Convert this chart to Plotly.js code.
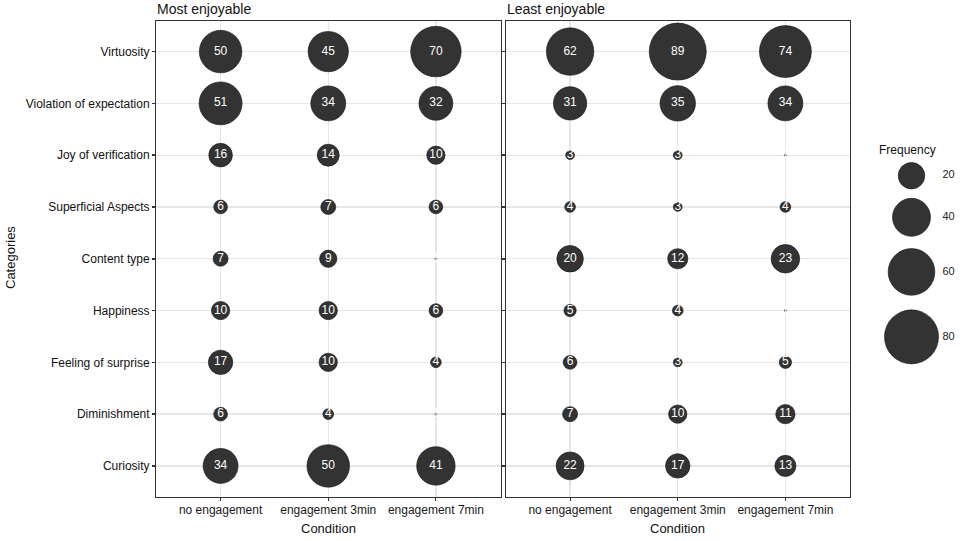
<!DOCTYPE html>
<html>
<head>
<meta charset="utf-8">
<script src="https://cdn.plot.ly/plotly-3.0.1.min.js"></script>
<style>html,body{margin:0;padding:0;background:#fff;}#chart{width:964px;height:541px;}</style>
</head>
<body>
<div id="chart"></div>
<script>
// ---- data ----
const categories = ["Virtuosity", "Violation of expectation", "Joy of verification", "Superficial Aspects",
  "Content type", "Happiness", "Feeling of surprise", "Diminishment", "Curiosity"];
const conditions = ["no engagement", "engagement 3min", "engagement 7min"];
// rows follow categories, columns follow conditions
const mostNo  = [50, 51, 16, 6, 7, 10, 17, 6, 34];
const most3   = [45, 34, 14, 7, 9, 10, 10, 4, 50];
const most7   = [70, 32, 10, 6, 1, 6, 4, 1, 41];
const leastNo = [62, 31, 3, 4, 20, 5, 6, 7, 22];
const least3  = [89, 35, 3, 3, 12, 4, 3, 10, 17];
const least7  = [74, 34, 1, 4, 23, 1, 5, 11, 13];
const legendValues = [20, 40, 60, 80];
const panelTitles = ["Most enjoyable", "Least enjoyable"];

// ---- size scale (area-linear like ggplot scale_size) ----
const allVals = [].concat(mostNo, most3, most7, leastNo, least3, least7);
const vMin = Math.min(...allVals), vMax = Math.max(...allVals);
const dMin = 2, dMax = 57;
function diam(v) {
  const t = (v - vMin) / (vMax - vMin);
  return Math.sqrt(dMin * dMin + t * (dMax * dMax - dMin * dMin));
}

const FONT = "Liberation Sans, Arial, Helvetica, sans-serif";
const fill = "rgb(51,51,51)";

function panelTrace(cols, xa, ya) {
  const x = [], y = [], v = [];
  cols.forEach((col, ci) => col.forEach((val, ri) => { x.push(conditions[ci]); y.push(categories[ri]); v.push(val); }));
  return {
    type: "scatter", mode: "markers+text", x: x, y: y, xaxis: xa, yaxis: ya,
    text: v.map(String), textposition: "middle center",
    textfont: {family: FONT, size: 12, color: "#ffffff"},
    marker: {size: v.map(diam), color: fill, opacity: 1, line: {color: "#111", width: 0.6}},
    cliponaxis: false, hoverinfo: "skip", showlegend: false
  };
}

// legend keys (pixel units on a hidden axis)
const legD = legendValues.map(diam);
const legY = [175.7];
for (let i = 1; i < legD.length; i++) legY.push(legY[i - 1] + 1.29 * (legD[i - 1] + legD[i]) / 2);
const legX = legendValues.map(() => 911.5);

const traces = [
  panelTrace([mostNo, most3, most7], "x", "y"),
  panelTrace([leastNo, least3, least7], "x2", "y2"),
  {type: "scatter", mode: "markers", x: legX, y: legY, xaxis: "x3", yaxis: "y3",
   marker: {size: legD, color: fill, opacity: 1, line: {color: "#111", width: 0.6}}, hoverinfo: "skip", showlegend: false, cliponaxis: false},
  {type: "scatter", mode: "text", x: legX.map(v => v + 31), y: legY, xaxis: "x3", yaxis: "y3",
   text: legendValues.map(String), textposition: "middle right",
   textfont: {family: FONT, size: 11, color: "#222"}, hoverinfo: "skip", showlegend: false, cliponaxis: false}
];

const W = 964, H = 541;
const yTop = 20.5, yBot = 497;
const yDom = [1 - yBot / H, 1 - yTop / H];
const xDom1 = [156 / W, 500.5 / W];
const xDom2 = [505.5 / W, 850 / W];

function xAxis(dom, anchor) {
  return {domain: dom, anchor: anchor, type: "category", categoryarray: conditions, categoryorder: "array",
    range: [-0.6, 2.6], showgrid: true, gridcolor: "#e6e6e6", gridwidth: 1.3, zeroline: false,
    showline: true, mirror: true, linecolor: "#333", linewidth: 1,
    ticks: "outside", ticklen: 3, tickcolor: "#333", tickwidth: 1, ticklabelstandoff: -1,
    tickfont: {family: FONT, size: 12, color: "#1a1a1a"}, fixedrange: true};
}
function yAxis(anchor, labels) {
  return {domain: yDom, anchor: anchor, type: "category", categoryarray: categories, categoryorder: "array",
    range: [8.6, -0.6], showgrid: true, gridcolor: "#e6e6e6", gridwidth: 1.3, zeroline: false,
    showline: true, mirror: true, linecolor: "#333", linewidth: 1,
    ticks: "outside", ticklen: 3, tickcolor: "#333", tickwidth: 1.5, showticklabels: labels,
    tickfont: {family: FONT, size: 12, color: "#111"}, fixedrange: true};
}

const layout = {
  width: W, height: H, margin: {l: 0, r: 0, t: 0, b: 0},
  paper_bgcolor: "#fff", plot_bgcolor: "#fff", showlegend: false,
  font: {family: FONT, color: "#1a1a1a"},
  xaxis: xAxis(xDom1, "y"), yaxis: yAxis("x", true),
  xaxis2: xAxis(xDom2, "y2"), yaxis2: yAxis("x2", false),
  xaxis3: {domain: [860 / W, 1], range: [860, 964], visible: false, fixedrange: true},
  yaxis3: {domain: [0, 1], range: [H, 0], visible: false, fixedrange: true, anchor: "x3"},
  annotations: [
    {text: panelTitles[0], xref: "paper", yref: "paper", x: 155 / W, y: 1 - 9 / H, xanchor: "left", yanchor: "middle", showarrow: false, font: {family: FONT, size: 14, color: "#111"}},
    {text: panelTitles[1], xref: "paper", yref: "paper", x: 505 / W, y: 1 - 9 / H, xanchor: "left", yanchor: "middle", showarrow: false, font: {family: FONT, size: 14, color: "#111"}},
    {text: "Condition", xref: "paper", yref: "paper", x: 328 / W, y: 1 - 528 / H, xanchor: "center", yanchor: "middle", showarrow: false, font: {family: FONT, size: 13, color: "#111"}},
    {text: "Condition", xref: "paper", yref: "paper", x: 677 / W, y: 1 - 528 / H, xanchor: "center", yanchor: "middle", showarrow: false, font: {family: FONT, size: 13, color: "#111"}},
    {text: "Categories", xref: "paper", yref: "paper", x: 10 / W, y: 1 - 258 / H, xanchor: "center", yanchor: "middle", textangle: -90, showarrow: false, font: {family: FONT, size: 13, color: "#111"}},
    {text: "Frequency", xref: "paper", yref: "paper", x: 877 / W, y: 1 - 150 / H, xanchor: "left", yanchor: "middle", showarrow: false, font: {family: FONT, size: 12, color: "#111"}}
  ]
};

Plotly.newPlot("chart", traces, layout, {displayModeBar: false, staticPlot: true});
</script>
</body>
</html>
